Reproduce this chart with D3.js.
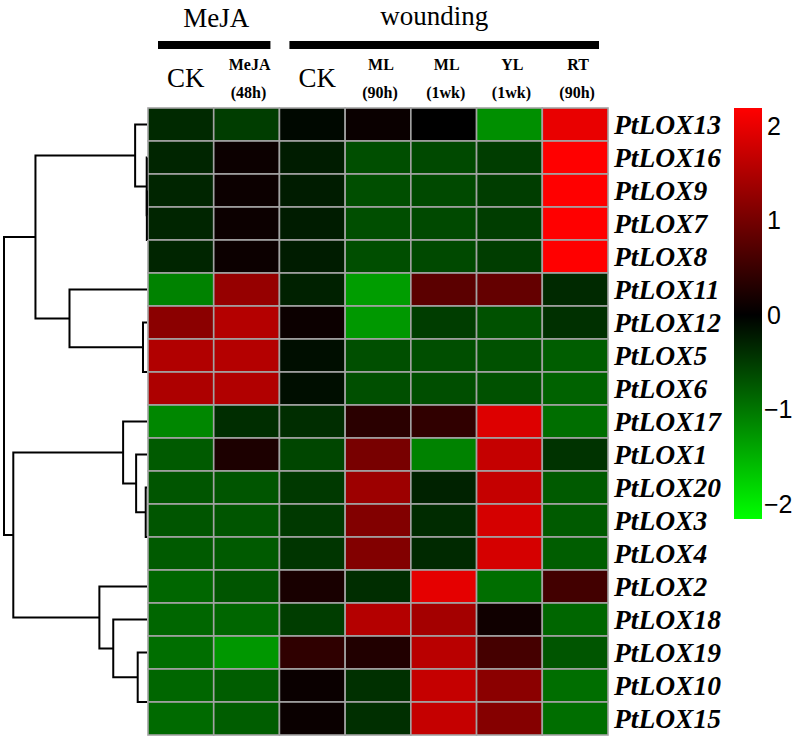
<!DOCTYPE html>
<html>
<head>
<meta charset="utf-8">
<script src="https://cdn.jsdelivr.net/npm/d3@7"></script>
<style>
  body { margin: 0; background: #fff; }
  svg { display: block; }
</style>
</head>
<body>
<svg></svg>
<script>
var width = 800;
var height = 738;

var columns = ["CK_m", "MeJA48", "CK_w", "ML90", "ML1w", "YL1w", "RT90"];
var colTop = ["", "MeJA", "", "ML", "ML", "YL", "RT"];
var colBottom = ["", "(48h)", "", "(90h)", "(1wk)", "(1wk)", "(90h)"];
var colBig = ["CK", "", "CK", "", "", "", ""];

var genes = ["PtLOX13", "PtLOX16", "PtLOX9", "PtLOX7", "PtLOX8", "PtLOX11", "PtLOX12",
             "PtLOX5", "PtLOX6", "PtLOX17", "PtLOX1", "PtLOX20", "PtLOX3", "PtLOX4",
             "PtLOX2", "PtLOX18", "PtLOX19", "PtLOX10", "PtLOX15"];

var values = [
    [-0.35, -0.52, -0.07,  0.09,  0.00, -1.21,  2.00],
    [-0.31,  0.10, -0.24, -0.66, -0.62, -0.52,  2.20],
    [-0.31,  0.10, -0.24, -0.66, -0.62, -0.52,  2.20],
    [-0.31,  0.10, -0.24, -0.66, -0.62, -0.52,  2.20],
    [-0.31,  0.10, -0.24, -0.66, -0.62, -0.52,  2.20],
    [-1.10,  1.29, -0.28, -1.33,  0.78,  0.86, -0.35],
    [ 1.19,  1.55,  0.10, -1.29, -0.52, -0.69, -0.41],
    [ 1.52,  1.55, -0.12, -0.67, -0.66, -0.69, -0.79],
    [ 1.49,  1.52, -0.12, -0.67, -0.66, -0.69, -0.83],
    [-1.14, -0.38, -0.38,  0.36,  0.41,  1.90, -0.93],
    [-0.76,  0.24, -0.59,  1.03, -1.10,  1.69, -0.43],
    [-0.72, -0.72, -0.48,  1.35, -0.29,  1.69, -0.76],
    [-0.72, -0.72, -0.48,  1.12, -0.36,  1.83, -0.76],
    [-0.76, -0.76, -0.45,  1.12, -0.35,  1.83, -0.79],
    [-0.86, -0.72,  0.21, -0.38,  1.97, -0.93,  0.57],
    [-0.86, -0.86, -0.52,  1.55,  1.41,  0.14, -0.86],
    [-0.93, -1.28,  0.40,  0.28,  1.59,  0.59, -0.72],
    [-0.86, -0.79,  0.09, -0.41,  1.69,  1.19, -0.93],
    [-0.90, -0.79,  0.09, -0.40,  1.69,  1.14, -0.93]
];

// hclust style merges: negative = leaf (1-based row), positive = earlier merge step
var mergeLeft  = [-4, -3, -2, -1, -8, -7, -6, 4, -13, -12, -11, -10, -18, -17, -16, -15, 12, 8];
var mergeRight = [-5,  1,  2,  3, -9,  5,  6, 7, -14,   9,  10,  11, -19,  13,  14,  15, 16, 17];
var mergeHeight = [0, 0.01, 0.02, 0.83, 0, 0.28, 5.42, 7.8, 0, 0.09, 0.76, 1.67, 0, 0.65, 2.36, 3.33, 9.35, 10];

var legendTicks = [2, 1, 0, -1, -2];
var legendMin = -2.16, legendMax = 2.19;

var svg = d3.select("svg")
    .attr("width", width)
    .attr("height", height);

var x = d3.scaleBand().domain(columns).range([148, 608]);
var y = d3.scaleBand().domain(genes).range([108, 735]);

var color = d3.scaleLinear()
    .domain([legendMin, 0, legendMax])
    .range(["#00ff00", "#000000", "#ff0000"]);

// cells
var cells = [];
values.forEach(function(row, i) {
    row.forEach(function(v, j) {
        cells.push({ gene: genes[i], col: columns[j], value: v });
    });
});

svg.append("g").selectAll("rect")
    .data(cells)
  .enter().append("rect")
    .attr("x", function(d) { return x(d.col); })
    .attr("y", function(d) { return y(d.gene); })
    .attr("width", x.bandwidth())
    .attr("height", y.bandwidth())
    .attr("fill", function(d) { return color(d.value); })
    .attr("stroke", "#a3a3a3")
    .attr("stroke-width", 1.6);

// row labels
svg.append("g").selectAll("text")
    .data(genes)
  .enter().append("text")
    .attr("x", 614)
    .attr("y", function(d) { return y(d) + y.bandwidth() / 2; })
    .attr("dy", "0.36em")
    .attr("font-family", "Liberation Serif, Times New Roman, serif")
    .attr("font-style", "italic")
    .attr("font-weight", "bold")
    .attr("font-size", 27.5)
    .text(function(d) { return d; });

// column headers
var head = svg.append("g")
    .attr("font-family", "Liberation Serif, Times New Roman, serif")
    .attr("text-anchor", "middle")
    .attr("fill", "#000");

head.selectAll(".big")
    .data(columns)
  .enter().append("text")
    .attr("class", "big")
    .attr("x", function(d) { return x(d) + x.bandwidth() / 2 + 5; })
    .attr("y", 87)
    .attr("font-size", 27)
    .text(function(d, i) { return colBig[i]; });

head.selectAll(".top")
    .data(columns)
  .enter().append("text")
    .attr("class", "top")
    .attr("x", function(d) { return x(d) + x.bandwidth() / 2 + 3; })
    .attr("y", 70)
    .attr("font-size", 16)
    .attr("font-weight", "bold")
    .text(function(d, i) { return colTop[i]; });

head.selectAll(".bottom")
    .data(columns)
  .enter().append("text")
    .attr("class", "bottom")
    .attr("x", function(d) { return x(d) + x.bandwidth() / 2 + 2; })
    .attr("y", 98)
    .attr("font-size", 16)
    .attr("font-weight", "bold")
    .text(function(d, i) { return colBottom[i]; });

// group titles and bars
var groups = [
    { name: "MeJA", from: "CK_m", to: "MeJA48" },
    { name: "wounding", from: "CK_w", to: "RT90" }
];

groups.forEach(function(g) {
    var x0 = x(g.from) + 10;
    var x1 = x(g.to) + x.bandwidth() - 9;
    svg.append("rect")
        .attr("x", x0)
        .attr("y", 41)
        .attr("width", x1 - x0)
        .attr("height", 8)
        .attr("fill", "#000");
    head.append("text")
        .attr("x", (x0 + x1) / 2 + (g.name == "MeJA" ? 2 : -10))
        .attr("y", g.name == "MeJA" ? 27 : 25)
        .attr("font-size", 27)
        .text(g.name);
});

// dendrogram
var hx = d3.scaleLinear().domain([0, 10]).range([147, 4]);
var nodes = [];

function pos(id) {
    if (id < 0) {
        var g = genes[-id - 1];
        return { x: hx(0), y: y(g) + y.bandwidth() / 2 };
    }
    return nodes[id - 1];
}

var dendro = svg.append("g")
    .attr("fill", "none")
    .attr("stroke", "#000")
    .attr("stroke-width", 2);

for (var k = 0; k < mergeHeight.length; k++) {
    var a = pos(mergeLeft[k]);
    var b = pos(mergeRight[k]);
    var nx = hx(mergeHeight[k]);
    nodes.push({ x: nx, y: (a.y + b.y) / 2 });

    if (mergeHeight[k] == 0)
        continue;

    dendro.append("path")
        .attr("d", "M" + a.x + "," + a.y + "H" + nx + "V" + b.y + "H" + b.x);
}

// colour key
var ly = d3.scaleLinear().domain([legendMin, legendMax]).range([519, 108]);

var grad = svg.append("defs").append("linearGradient")
    .attr("id", "key")
    .attr("x1", 0).attr("y1", 1)
    .attr("x2", 0).attr("y2", 0);

grad.selectAll("stop")
    .data([legendMin, 0, legendMax])
  .enter().append("stop")
    .attr("offset", function(d) { return (d - legendMin) / (legendMax - legendMin); })
    .attr("stop-color", function(d) { return color(d); });

svg.append("rect")
    .attr("x", 734)
    .attr("y", ly(legendMax))
    .attr("width", 28)
    .attr("height", ly(legendMin) - ly(legendMax))
    .attr("fill", "url(#key)");

svg.append("g").selectAll("text")
    .data(legendTicks)
  .enter().append("text")
    .attr("x", function(d) { return d < 0 ? 764 : 767; })
    .attr("y", function(d) { return ly(d); })
    .attr("dy", "0.36em")
    .attr("font-family", "Liberation Sans, Arial, sans-serif")
    .attr("font-size", 25)
    .text(function(d) { return d < 0 ? "\u2212" + (-d) : d; });
</script>
</body>
</html>
